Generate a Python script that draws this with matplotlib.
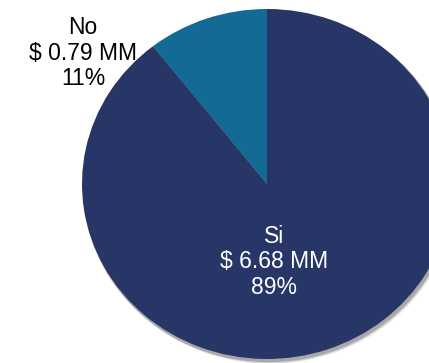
import matplotlib.pyplot as plt
from matplotlib.patches import Ellipse

labels = ["No", "Si"]
amounts = [0.79, 6.68]
colors = ["#136a94", "#283567"]

W, H = 429, 363
# pie centre / radii in pixels (from top-left)
cx, cy, rx, ry = 267, 184, 185, 175

fig = plt.figure(figsize=(W / 100, H / 100), dpi=100)
ax = fig.add_axes([0, 0, 1, 1])


def px(x, y):
    # pixel position -> data units of the unit pie
    return (x - cx) / rx, (cy - y) / ry


# soft drop shadow
for i, a in enumerate([0.08, 0.12, 0.18]):
    ax.add_patch(Ellipse((3.0 / rx - i * 0.004, -4.0 / ry + i * 0.005), 2 + 0.01, 2 + 0.01,
                         color="#000000", alpha=a, lw=0, zorder=0))

ax.pie(amounts, colors=colors, startangle=90, counterclock=True,
       radius=1, frame=True, wedgeprops=dict(linewidth=0))

x0, _ = px(0, 0)
x1, _ = px(W, 0)
_, y1 = px(0, 0)
_, y0 = px(0, H)
ax.set_xlim(x0, x1)
ax.set_ylim(y0, y1)
ax.set_aspect("auto")
ax.axis("off")

total = sum(amounts)
pcts = [round(v / total * 100) for v in amounts]

font = ["Liberation Sans", "DejaVu Sans"]
ax.text(*px(83, 53), f"{labels[0]}\n$ {amounts[0]:.2f} MM\n{pcts[0]}%", ha="center", va="center",
        fontsize=16.5, color="black", family=font, linespacing=1.12, zorder=5)
ax.text(*px(274, 262), f"{labels[1]}\n$ {amounts[1]:.2f} MM\n{pcts[1]}%", ha="center", va="center",
        fontsize=16.5, color="white", family=font, linespacing=1.12, zorder=5)

fig.savefig("out.png", dpi=100, facecolor="white")
